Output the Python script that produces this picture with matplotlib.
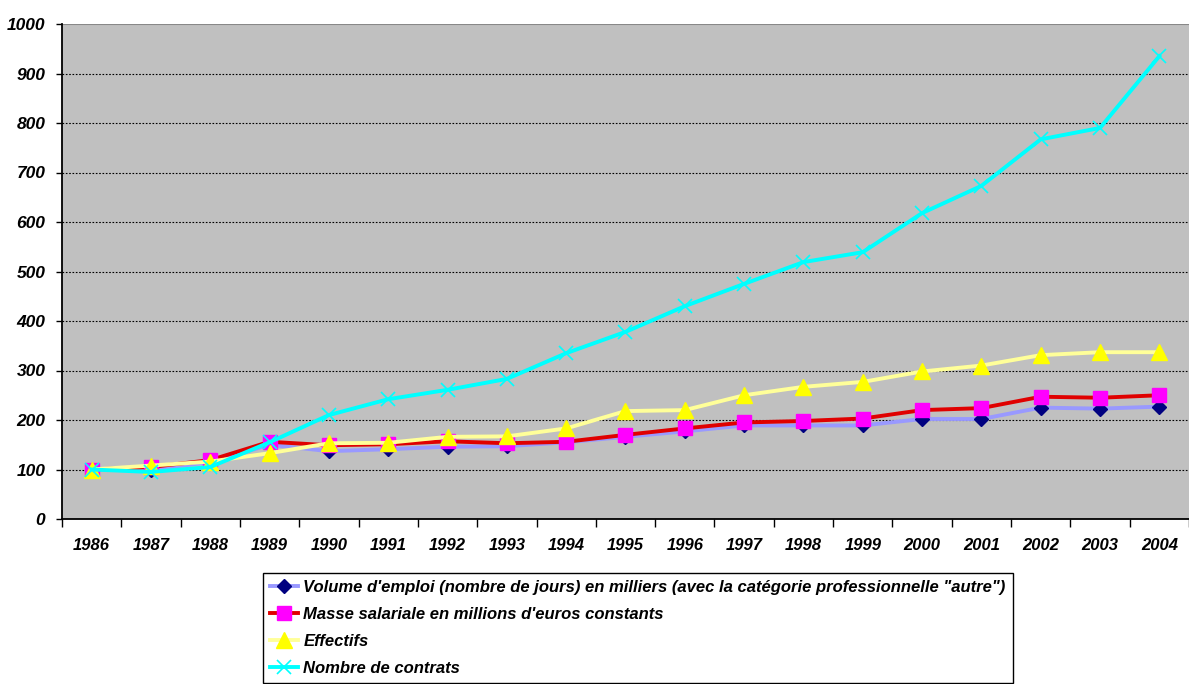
import matplotlib
matplotlib.use("Agg")
import matplotlib.pyplot as plt
from matplotlib.ticker import FixedLocator

years = ["1986", "1987", "1988", "1989", "1990", "1991", "1992", "1993", "1994", "1995",
         "1996", "1997", "1998", "1999", "2000", "2001", "2002", "2003", "2004"]
volume = [100, 100, 115, 150, 137, 141, 146, 147, 155, 166, 177, 189, 189, 189, 202, 202, 225, 223, 227]
masse = [100, 105, 119, 156, 149, 151, 157, 153, 156, 170, 183, 195, 198, 203, 220, 224, 247, 245, 250]
effectifs = [100, 108, 116, 133, 153, 154, 166, 167, 183, 218, 220, 250, 267, 277, 298, 310, 331, 337, 337]
contrats = [100, 95, 105, 155, 210, 242, 261, 283, 335, 378, 430, 475, 519, 539, 618, 673, 767, 790, 935]
labels = ["Volume d'emploi (nombre de jours) en milliers (avec la catégorie professionnelle \"autre\")",
          "Masse salariale en millions d'euros constants",
          "Effectifs",
          "Nombre de contrats"]

plt.rcParams['font.family'] = ['Liberation Sans', 'DejaVu Sans']
fig = plt.figure(figsize=(11.89, 6.84), dpi=100)
ax = fig.add_axes([62/1189, 1 - 519/684, 1 - 62/1189, (519 - 24)/684])
ax.set_facecolor('#C0C0C0')

x = list(range(len(years)))
ax.plot(x, volume, color='#9999FF', lw=2.8, marker='D', ms=7.5, mfc='#000080', mec='#000080', label=labels[0], zorder=3)
ax.plot(x, masse, color='#E00000', lw=2.8, marker='s', ms=10.5, mfc='#FF00FF', mec='#FF00FF', label=labels[1], zorder=4)
ax.plot(x, effectifs, color='#FFFF99', lw=2.8, marker='^', ms=11.5, mfc='#FFFF00', mec='#FFFF00', label=labels[2], zorder=5)
ax.plot(x, contrats, color='#00FFFF', lw=2.8, marker='x', ms=10, mew=1.2, mfc='#00FFFF', mec='#00FFFF', label=labels[3], zorder=6)

ax.set_xlim(-0.5, len(years) - 0.5)
ax.set_ylim(0, 1000)
ax.yaxis.set_major_locator(FixedLocator(range(0, 1001, 100)))
ax.set_yticklabels([str(v) for v in range(0, 1001, 100)], fontsize=12.5, fontweight='bold', fontstyle='italic')
ax.tick_params(axis='y', length=4, width=1, pad=8)

ax.xaxis.set_major_locator(FixedLocator([i - 0.5 for i in range(len(years) + 1)]))
ax.xaxis.set_minor_locator(FixedLocator(x))
ax.set_xticklabels([''] * (len(years) + 1))
ax.set_xticklabels(years, minor=True, fontsize=12, fontweight='bold', fontstyle='italic')
ax.tick_params(axis='x', which='major', length=6, width=1)
ax.tick_params(axis='x', which='minor', length=0, pad=14)

for v in range(100, 1000, 100):
    ax.axhline(v, color='black', lw=0.8, ls=(0, (1.5, 1.5)), zorder=1)
ax.axhline(1000, color='#888888', lw=1.5, zorder=1)

ax.spines['top'].set_visible(False)
ax.spines['right'].set_visible(False)
ax.spines['left'].set_linewidth(1.3)
ax.spines['bottom'].set_linewidth(1.3)

leg = fig.legend(loc='upper left', bbox_to_anchor=(263/1189, 1 - 573/684),
                 prop={'size': 12, 'weight': 'bold', 'style': 'italic'},
                 frameon=True, fancybox=False, edgecolor='black', framealpha=1,
                 handlelength=1.7, handletextpad=0.3, labelspacing=0.72, borderpad=0.42,
                 borderaxespad=0)
leg.get_frame().set_linewidth(1.0)

fig.savefig('out.png', dpi=100)
